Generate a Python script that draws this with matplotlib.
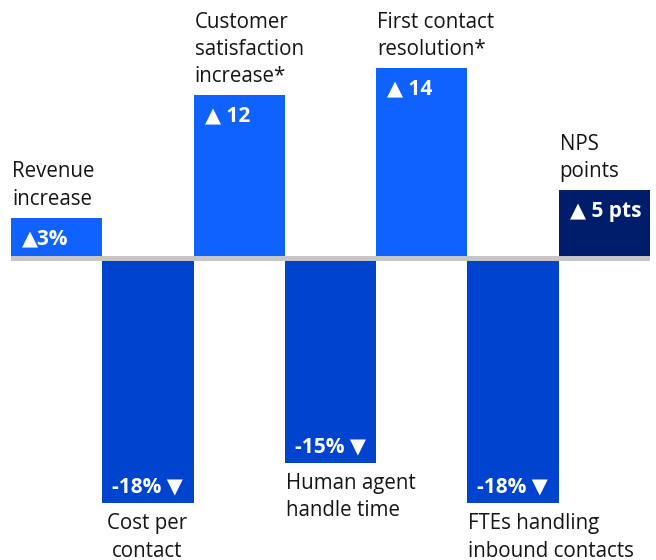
import matplotlib.pyplot as plt

# chart data
categories = ["Revenue\nincrease", "Cost per\ncontact", "Customer\nsatisfaction\nincrease*",
              "Human agent\nhandle time", "First contact\nresolution*",
              "FTEs handling\ninbound contacts", "NPS\npoints"]
values = [3, -18, 12, -15, 14, -18, 5]
value_labels = ["\u25B23%", "-18% \u25BC", "\u25B2 12", "-15% \u25BC", "\u25B2 14", "-18% \u25BC", "\u25B2 5 pts"]
colors = ["#0f62fe", "#0043ce", "#0f62fe", "#0043ce", "#0f62fe", "#0043ce", "#001d6c"]

fonts = ["Open Sans", "DejaVu Sans"]
plt.rcParams["font.family"] = fonts

fig = plt.figure(figsize=(6.56, 5.6), dpi=100)
ax = fig.add_axes([11 / 656, 0, 639 / 656, 1])

x = list(range(len(values)))
ax.bar(x, values, width=1.0, color=colors, align="edge", zorder=2)
ax.axhline(0, color="#c6c6c6", linewidth=3.6, zorder=3)

for i, (cat, v, lab) in enumerate(zip(categories, values, value_labels)):
    if v > 0:
        ax.annotate(cat, (i, v), xytext=(1, 8), textcoords="offset pixels",
                    ha="left", va="bottom", fontsize=14.8, color="#161616", linespacing=1.4)
        ax.annotate(lab, (i, v), xytext=(11, -21), textcoords="offset pixels",
                    ha="left", va="center", fontsize=15, fontweight="bold", color="white")
    else:
        ma = "center" if i == 1 else "left"
        dx = 5 if i == 1 else 1
        ax.annotate(cat, (i, v), xytext=(dx, -10), textcoords="offset pixels",
                    ha="left", va="top", fontsize=14.8, color="#161616", linespacing=1.4,
                    multialignment=ma)
        ax.annotate(lab, (i, v), xytext=(10, 16), textcoords="offset pixels",
                    ha="left", va="center", fontsize=15, fontweight="bold", color="white")

ax.set_xlim(0, len(values))
ax.set_ylim(-(560 - 258.5) / 13.6, 258.5 / 13.6)
ax.axis("off")

fig.savefig("out.png", dpi=100)
